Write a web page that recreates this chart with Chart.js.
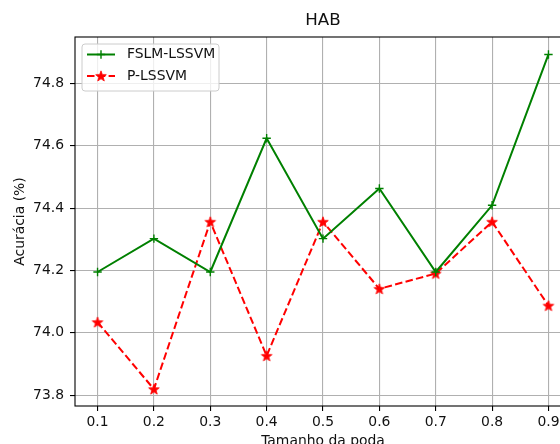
<!DOCTYPE html>
<html>
<head>
<meta charset="utf-8">
<script src="https://cdn.jsdelivr.net/npm/chart.js@4"></script>
<style>
  html, body { margin: 0; padding: 0; background: #fff; }
  body { width: 560px; height: 444px; overflow: hidden; position: relative; }
  #wrap { position: absolute; left: -5px; top: -21px; width: 640px; height: 480px; }
</style>
</head>
<body>
<div id="wrap"><canvas id="hab_chart" width="640" height="480"></canvas></div>
<script>
// pruning size vs. accuracy on HAB
const chartTitle = 'HAB';
const podaSizes = [0.1, 0.2, 0.3, 0.4, 0.5, 0.6, 0.7, 0.8, 0.9];
const fslmAcc   = [74.195, 74.302, 74.195, 74.624, 74.302, 74.463, 74.195, 74.409, 74.893];
const plssvmAcc = [74.034, 73.819, 74.356, 73.926, 74.356, 74.141, 74.190, 74.356, 74.087];
const xTicks = [0.1, 0.2, 0.3, 0.4, 0.5, 0.6, 0.7, 0.8, 0.9];
const yTicks = [73.8, 74.0, 74.2, 74.4, 74.6, 74.8];

const FONT = 'DejaVu Sans';
const TXT = '#111';

// filled five point star, used as point style
const makeStar = (color) => {
  const c = document.createElement('canvas');
  c.width = 14; c.height = 14;
  const g = c.getContext('2d');
  g.beginPath();
  for (let i = 0; i < 10; i++) {
    const r = i % 2 === 0 ? 5.6 : 2.3;
    const a = -Math.PI / 2 + i * Math.PI / 5;
    const px = 7 + r * Math.cos(a), py = 7.5 + r * Math.sin(a);
    if (i === 0) g.moveTo(px, py); else g.lineTo(px, py);
  }
  g.closePath();
  g.fillStyle = color;
  g.fill();
  g.lineWidth = 0.8;
  g.strokeStyle = color;
  g.stroke();
  return c;
};
const redStar = makeStar('#ff0000');

const toPoints = (ys) => podaSizes.map((x, i) => ({x: x, y: ys[i]}));

// title centred over the axes, axes frame, legend box in the upper left corner
const framePlugin = {
  id: 'frame',
  afterDatasetsDraw(chart) {
    const {ctx, chartArea: a} = chart;
    ctx.save();
    ctx.strokeStyle = '#000';
    ctx.lineWidth = 1.1;
    ctx.strokeRect(a.left, a.top, a.right - a.left, a.bottom - a.top);

    ctx.fillStyle = TXT;
    ctx.font = '16.7px "' + FONT + '"';
    ctx.textAlign = 'center';
    ctx.textBaseline = 'middle';
    ctx.fillText(chartTitle, (a.left + a.right) / 2, a.top - 16);
    ctx.textAlign = 'left';

    const bx = a.left + 7, by = a.top + 7, bw = 137, bh = 47;
    ctx.beginPath();
    ctx.roundRect(bx, by, bw, bh, 3);
    ctx.fillStyle = 'rgba(255,255,255,0.8)';
    ctx.fill();
    ctx.strokeStyle = '#cccccc';
    ctx.lineWidth = 1;
    ctx.stroke();

    ctx.font = '13.9px "' + FONT + '"';
    ctx.fillStyle = TXT;
    chart.data.datasets.forEach((ds, i) => {
      const y = by + 10.5 + i * 21.4;
      ctx.beginPath();
      ctx.strokeStyle = ds.borderColor;
      ctx.lineWidth = ds.borderWidth;
      ctx.setLineDash(ds.borderDash || []);
      ctx.moveTo(bx + 5, y);
      ctx.lineTo(bx + 33, y);
      ctx.stroke();
      ctx.setLineDash([]);
      const mx = bx + 19;
      if (ds.pointStyle === 'cross') {
        ctx.lineWidth = ds.pointBorderWidth;
        ctx.beginPath();
        ctx.moveTo(mx - 4.2, y); ctx.lineTo(mx + 4.2, y);
        ctx.moveTo(mx, y - 4.2); ctx.lineTo(mx, y + 4.2);
        ctx.stroke();
      } else {
        ctx.drawImage(ds.pointStyle, mx - 7, y - 7);
      }
      ctx.fillText(ds.label, bx + 45, y);
    });
    ctx.restore();
  }
};

const chart = new Chart(document.getElementById('hab_chart').getContext('2d'), {
  type: 'line',
  data: {
    datasets: [
      {
        label: 'FSLM-LSSVM',
        data: toPoints(fslmAcc),
        borderColor: '#008000',
        backgroundColor: '#008000',
        borderWidth: 2,
        pointStyle: 'cross',
        pointRadius: 4.2,
        pointBorderWidth: 1.4,
        pointBorderColor: '#008000',
        tension: 0
      },
      {
        label: 'P-LSSVM',
        data: toPoints(plssvmAcc),
        borderColor: '#ff0000',
        backgroundColor: '#ff0000',
        borderWidth: 2,
        borderDash: [7.5, 3.3],
        pointStyle: redStar,
        pointRadius: 6,
        tension: 0
      }
    ]
  },
  options: {
    responsive: false,
    animation: false,
    devicePixelRatio: 1,
    layout: { padding: { left: 0, top: 58, right: 64, bottom: 0 } },
    plugins: {
      legend: { display: false },
      tooltip: { enabled: false },
      title: { display: false }
    },
    scales: {
      x: {
        type: 'linear',
        min: 0.06,
        max: 0.94,
        afterBuildTicks: (s) => { s.ticks = xTicks.map(v => ({value: v})); },
        afterFit: (s) => { s.height = 53; },
        grid: { color: '#b0b0b0', lineWidth: 1.1, tickLength: 5, tickColor: '#000', tickWidth: 1.1 },
        border: { display: false },
        ticks: {
          color: TXT,
          padding: 3,
          maxRotation: 0,
          font: { family: FONT, size: 13.9 },
          callback: (v) => Number(v).toFixed(1)
        },
        title: {
          display: true,
          text: 'Tamanho da poda',
          color: TXT,
          font: { family: FONT, size: 13.9 },
          padding: { top: 0, bottom: 9 }
        }
      },
      y: {
        type: 'linear',
        min: 73.765,
        max: 74.949,
        afterBuildTicks: (s) => { s.ticks = yTicks.map(v => ({value: v})); },
        afterFit: (s) => { s.width = 80; },
        grid: { color: '#b0b0b0', lineWidth: 1.1, tickLength: 5, tickColor: '#000', tickWidth: 1.1 },
        border: { display: false },
        ticks: {
          color: TXT,
          padding: 6,
          font: { family: FONT, size: 13.9 },
          callback: (v) => Number(v).toFixed(1)
        },
        title: {
          display: true,
          text: 'Acurácia (%)',
          color: TXT,
          font: { family: FONT, size: 13.9 },
          padding: { top: 17, bottom: 0 }
        }
      }
    }
  },
  plugins: [framePlugin]
});
</script>
</body>
</html>
